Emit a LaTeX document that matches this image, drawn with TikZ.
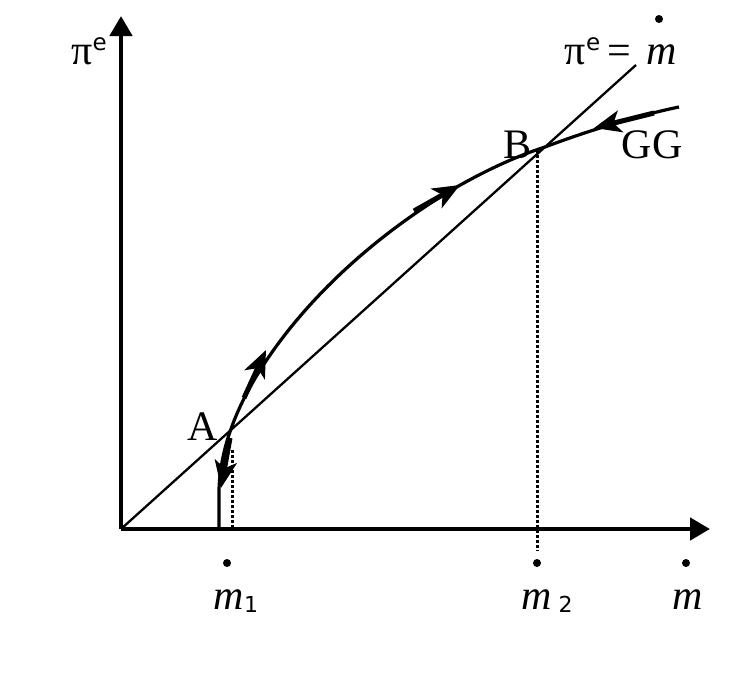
\documentclass[tikz,border=0pt]{standalone}
\usepackage{fontspec}
\setmainfont{Liberation Serif}
\newfontfamily\dvs{DejaVu Sans}
\usetikzlibrary{arrows.meta}
\tikzset{
  axis/.style={line width=4.6pt,-{Triangle[length=20pt,width=22pt]}},
  curveline/.style={line width=3.2pt},
  heavy/.style={line width=5pt,-{Stealth[length=27pt,width=22pt,inset=7pt]}},
  guide/.style={line width=3pt,dotted},
  lbl/.style={font=\fontsize{42}{48}\selectfont,inner sep=0pt},
  dotmark/.style={circle,fill=black,inner sep=0pt,minimum size=8pt},
}
\newcommand{\supe}{\raisebox{14pt}{\dvs\fontsize{23}{28}\selectfont e}}
\newcommand{\subn}[1]{\raisebox{-3pt}{\dvs\fontsize{22}{26}\selectfont #1}}
\begin{document}
\begin{tikzpicture}[x=1pt,y=-1pt]
\useasboundingbox (0,0) rectangle (735,680);
\coordinate (O) at (121,529);
\coordinate (Ytop) at (121,16);
\coordinate (Xend) at (710,529);
\coordinate (Lend) at (636,65);
\coordinate (S) at (219,529);
\coordinate (S2) at (219,492);
\coordinate (A) at (231,429);
\coordinate (M) at (455,188);
\coordinate (B) at (545,147);
\coordinate (E) at (679,107);
% axes
\draw[axis] (O) -- (Ytop);
\draw[axis] (O) -- (Xend);
% 45 degree line
\draw[line width=2.3pt] (O) -- (Lend);
% dotted guides
\coordinate (d1t) at (232,450); \coordinate (d1b) at (232,527);
\coordinate (d2t) at (537,150); \coordinate (d2b) at (537,551);
\draw[guide] (d1t) -- (d1b);
\draw[guide] (d2t) -- (d2b);
% curve GG
\draw[curveline] (S) -- (S2) .. controls (219,470) and (225,445) .. (A)
  .. controls (255,360) and (330,262) .. (M)
  .. controls (490,168) and (520,155) .. (B)
  .. controls (590,130) and (640,115) .. (E);
% arrows on the curve
\coordinate (a1s) at (230,438); \coordinate (a1e) at (221,488);
\coordinate (a2s) at (244,398); \coordinate (a2e) at (266,350);
\coordinate (a3s) at (414,211); \coordinate (a3e) at (460,185);
\coordinate (a4s) at (654,113); \coordinate (a4e) at (594,128);
\draw[heavy] (a1s) -- (a1e);
\draw[heavy] (a2s) -- (a2e);
\draw[heavy] (a3s) -- (a3e);
\draw[heavy] (a4s) -- (a4e);
% dots
\node[dotmark] (dm1) at (227,563) {};
\node[dotmark] (dm2) at (537,563) {};
\node[dotmark] (dm) at (686,563) {};
\node[dotmark] (dmt) at (659,19) {};
% labels
\node[lbl,anchor=base] (piy) at (89,64) {π\supe};
\node[lbl,anchor=base] (eq) at (598,64) {π\supe\,=};
\node[lbl,anchor=base] (mt) at (662,64) {\textit{m}};
\node[lbl,anchor=base] (lA) at (203,440) {A};
\node[lbl,anchor=base] (lB) at (517,158) {B};
\node[lbl,anchor=base] (lGG) at (652,158) {GG};
\node[lbl,anchor=base] (m1) at (236,609) {\textit{m}\subn{1}};
\node[lbl,anchor=base] (m2) at (547,609) {\textit{m}\,\subn{2}};
\node[lbl,anchor=base] (mx) at (688,609) {\textit{m}};
\end{tikzpicture}
\end{document}
